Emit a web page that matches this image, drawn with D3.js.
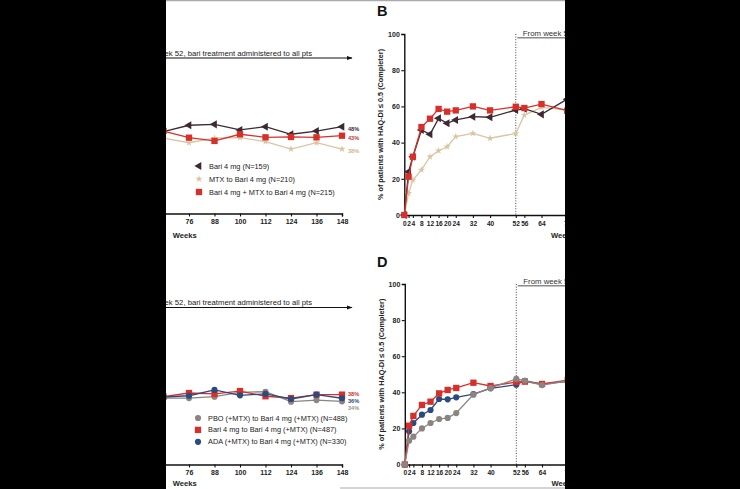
<!DOCTYPE html>
<html><head><meta charset="utf-8">
<script src="https://cdn.jsdelivr.net/npm/d3@7"></script>
<style>
body{margin:0;background:#fff}
svg{display:block}
text{font-family:"Liberation Sans",Arial,Helvetica,sans-serif}
</style>
</head><body>
<svg id="c" width="740" height="489"></svg>
<script>
// ---------------- DATA ----------------
const weeksEarly = [0,2,4,8,12,16,20,24,32,40,52,56,64,76];
const weeksLate  = [64,76,88,100,112,124,136,148];
const xTickWeeks = [0,2,4,8,12,16,20,24,32,40,52,56,64,76,88,100,112,124,136,148];
const yTickValues = [0,20,40,60,80,100];

// Panel A (visible part, weeks 64-148)
const aBari    = [45.8,49.3,49.8,46.7,48.5,44.3,46.1,48.5];
const aMtx     = [42.2,39.6,42.1,42.4,40.2,36.1,39.6,36.1];
const aBariMtx = [46.1,42.4,40.6,44.3,42.6,42.8,42.6,43.5];
const aEndLabels = ["48%","38%","43%"];   // Bari, MTX, Bari+MTX
const aLegend = ["Bari 4 mg (N=159)","MTX to Bari 4 mg (N=210)","Bari 4 mg + MTX to Bari 4 mg (N=215)"];

// Panel B (weeks 0-76)
const bBari    = [0,23.9,32.2,47.0,44.6,53.4,50.7,52.5,54.3,54.0,58.0,58.7,55.6,64.0];
const bMtx     = [0,12.0,19.3,24.9,32.2,35.5,37.7,43.3,45.1,42.4,45.1,55.2,59.5,58.0];
const bBariMtx = [0,21.2,32.2,48.6,53.2,58.6,57.1,57.8,60.0,57.8,59.8,59.1,61.3,57.6];

// Panel C (visible part, weeks 64-148)
const cPbo  = [36.8,36.8,37.6,40.0,40.3,34.8,35.7,35.0];
const cBari = [37.6,39.6,39.1,40.7,37.8,36.8,38.7,38.7];
const cAda  = [37.4,38.1,41.3,38.3,39.1,36.3,38.7,36.7];
const cEndLabels = ["34%","38%","36%"];   // PBO, Bari, ADA
const cLegend = ["PBO (+MTX) to Bari 4 mg (+MTX) (N=488)","Bari 4 mg to Bari 4 mg (+MTX) (N=487)","ADA (+MTX) to Bari 4 mg (+MTX) (N=330)"];

// Panel D (weeks 0-76)
const dPbo  = [0,13.2,15.4,20.0,23.0,25.2,25.8,28.5,38.7,42.4,47.4,46.4,44.0,46.4];
const dBari = [0,21.5,26.9,33.0,34.8,39.4,41.3,42.4,45.3,43.5,45.7,45.9,44.6,46.8];
const dAda  = [0,18.4,23.0,27.6,30.2,36.3,36.1,37.2,39.0,42.2,44.2,46.4,44.5,46.0];

const arrowText = "From week 52, bari treatment administered to all pts";
const yTitle = "% of patients with HAQ-DI \u2264 0.5 (Completer)";
const panelLetters = ["B","D"];
const visibleLateTicks = [76,88,100,112,124,136,148];

// ---------------- STYLE ----------------
const C = {
  dark:"#3d2a30", red:"#d7302a", beige:"#d9c5a2", blue:"#2b4b7e", gray:"#8b8480",
  redLbl:"#c8372d", beigeLbl:"#cdb892", blueLbl:"#2b4b7e", grayLbl:"#9a938e"
};
const svg = d3.select("#c");

const sym = {
  triL: {type:d3.symbolTriangle, size:28, rot:-90},
  square:{type:d3.symbolSquare, size:40, rot:0},
  star:{type:d3.symbolStar, size:16, rot:0},
  circle:{type:d3.symbolCircle, size:30, rot:0}
};
function drawMarker(g,x,y,m,color){
  g.append("path").attr("d",d3.symbol().type(sym[m].type).size(sym[m].size)())
   .attr("transform",`translate(${x},${y}) rotate(${sym[m].rot})`)
   .attr("fill",color);
}
function drawSeries(g,xs,ys,weeks,vals,color,m){
  const pts = weeks.map((w,i)=>[xs(w),ys(vals[i])]);
  g.append("path").attr("d",d3.line()(pts)).attr("fill","none")
   .attr("stroke",color).attr("stroke-width",1.3);
  pts.forEach(p=>drawMarker(g,p[0],p[1],m,color));
}

svg.append("defs").append("marker").attr("id","arr").attr("viewBox","0 0 10 10")
  .attr("refX",9).attr("refY",5).attr("markerWidth",6).attr("markerHeight",6)
  .attr("orient","auto").append("path").attr("d","M0,1.5L10,5L0,8.5Z").attr("fill","#111");

function styleAxis(g,fs){
  g.selectAll(".domain").attr("stroke","#111").attr("stroke-width",1.4);
  g.selectAll(".tick line").attr("stroke","#111").attr("stroke-width",1.1);
  g.selectAll("text").attr("font-size",fs).attr("font-weight","bold")
   .attr("font-family","'Liberation Sans',Arial,sans-serif").attr("fill","#222");
}

// ---------- Left panels (A, C) ----------
function leftPanel(cfg){
  const g = svg.append("g");
  const x = d3.scaleLinear().domain([0,148]).range([27.5,342]);
  const y = d3.scaleLinear().domain([0,100]).range([cfg.y0,cfg.y100]);
  g.append("line").attr("x1",x(52)).attr("x2",352).attr("y1",cfg.arrowY).attr("y2",cfg.arrowY)
   .attr("stroke","#111").attr("stroke-width",1).attr("marker-end","url(#arr)");
  g.append("text").attr("x",312).attr("y",cfg.arrowY-2.4).attr("text-anchor","end")
   .attr("font-size",7.7).attr("fill","#222").text(arrowText);
  const ax = g.append("g").attr("transform",`translate(0,${cfg.axisY})`)
    .call(d3.axisBottom(x).tickValues(visibleLateTicks).tickSize(3).tickPadding(3));
  styleAxis(ax,7);
  g.append("text").attr("x",(x.range()[0]+x.range()[1])/2).attr("y",cfg.axisY+cfg.weeksDy)
   .attr("text-anchor","middle").attr("font-size",7.6).attr("font-weight","bold").attr("fill","#222").text("Weeks");
  cfg.series.forEach(s=>drawSeries(g,x,y,weeksLate,s.vals,s.color,s.m));
  const ends = cfg.series.map((s,i)=>({y:y(s.vals[s.vals.length-1]),lbl:cfg.endLabels[i],c:s.lbl}))
     .sort((a,b)=>a.y-b.y);
  let prev=-1e9;
  ends.forEach(e=>{
    let yy=Math.max(e.y+cfg.lblOff,prev+7); prev=yy;
    g.append("text").attr("x",348).attr("y",yy).attr("dy","0.35em").attr("font-size",5.6)
     .attr("font-weight","bold").attr("fill",e.c).text(e.lbl);
  });
  cfg.legend.forEach((t,i)=>{
    const ly = cfg.legY + i*cfg.legStep;
    drawMarker(g,cfg.legX,ly,cfg.series[i].m,cfg.series[i].color);
    g.append("text").attr("x",cfg.legX+10).attr("y",ly).attr("dy","0.35em")
     .attr("font-size",7.35).attr("fill","#222").text(t);
  });
}

leftPanel({y0:214,y100:34,axisY:213.5,arrowY:58,legX:199,legY:166,legStep:13,weeksDy:24.5,lblOff:2.5,
  endLabels:aEndLabels,legend:aLegend,
  series:[{vals:aBari,color:C.dark,m:"triL",lbl:C.dark},
          {vals:aMtx,color:C.beige,m:"star",lbl:C.beigeLbl},
          {vals:aBariMtx,color:C.red,m:"square",lbl:C.redLbl}]});
leftPanel({y0:464.5,y100:284,axisY:464.5,arrowY:307.5,legX:198,legY:418,legStep:11.9,weeksDy:21.5,lblOff:-0.7,
  endLabels:cEndLabels,legend:cLegend,
  series:[{vals:cPbo,color:C.gray,m:"circle",lbl:C.grayLbl},
          {vals:cBari,color:C.red,m:"square",lbl:C.redLbl},
          {vals:cAda,color:C.blue,m:"circle",lbl:C.blueLbl}]});

// ---------- Right panels (B, D) ----------
function rightPanel(cfg){
  const g = svg.append("g");
  const x = d3.scaleLinear().domain([0,148]).range([cfg.x0,cfg.x0+148*2.144]);
  const y = d3.scaleLinear().domain([0,100]).range([cfg.y0,cfg.y100]);
  g.append("text").attr("x",377).attr("y",cfg.letterY).attr("font-size",14.5)
   .attr("font-weight","bold").attr("fill","#111").text(cfg.letter);
  g.append("line").attr("x1",x(52)).attr("x2",x(52)).attr("y1",y(100)).attr("y2",y(0))
   .attr("stroke","#444").attr("stroke-width",1).attr("stroke-dasharray","1,1.6");
  g.append("line").attr("x1",x(52)+1.5).attr("x2",760).attr("y1",cfg.ulY).attr("y2",cfg.ulY)
   .attr("stroke","#8a8a8a").attr("stroke-width",1.5);
  g.append("text").attr("x",x(52)+7).attr("y",cfg.ulY-2.2).attr("font-size",7.8)
   .attr("fill","#333").text(arrowText);
  const ax = g.append("g").attr("transform",`translate(0,${cfg.y0})`)
    .call(d3.axisBottom(x).tickValues(xTickWeeks).tickSize(3).tickPadding(3));
  styleAxis(ax,6.6);
  const ay = g.append("g").attr("transform",`translate(${cfg.x0},0)`)
    .call(d3.axisLeft(y).tickValues(yTickValues).tickSize(3).tickPadding(1.5));
  styleAxis(ay,7);
  g.append("text").attr("transform",`translate(${cfg.x0-21},${(cfg.y0+cfg.y100)/2}) rotate(-90)`)
   .attr("text-anchor","middle").attr("font-size",7.3).attr("font-weight","bold").attr("fill","#222").text(yTitle);
  g.append("text").attr("x",(x.range()[0]+x.range()[1])/2).attr("y",cfg.y0+cfg.weeksDy)
   .attr("text-anchor","middle").attr("font-size",7.6).attr("font-weight","bold").attr("fill","#222").text("Weeks");
  cfg.series.forEach(s=>drawSeries(g,x,y,weeksEarly,s.vals,s.color,s.m));
}
rightPanel({letter:panelLetters[0],letterY:16,x0:404.3,y0:215,y100:34,ulY:37.7,weeksDy:23,
  series:[{vals:bMtx,color:C.beige,m:"star"},
          {vals:bBari,color:C.dark,m:"triL"},
          {vals:bBariMtx,color:C.red,m:"square"}]});
rightPanel({letter:panelLetters[1],letterY:266.5,x0:404.8,y0:464.5,y100:284,ulY:285.7,weeksDy:21.5,
  series:[{vals:dAda,color:C.blue,m:"circle"},
          {vals:dBari,color:C.red,m:"square"},
          {vals:dPbo,color:C.gray,m:"circle"}]});

// ---------- frame & masks ----------
svg.append("line").attr("x1",0).attr("x2",740).attr("y1",0.5).attr("y2",0.5).attr("stroke","#aaa").attr("stroke-width",1.5);
svg.append("line").attr("x1",340).attr("x2",740).attr("y1",488).attr("y2",488).attr("stroke","#aaa").attr("stroke-width",1.2);
svg.append("rect").attr("x",0).attr("y",0).attr("width",166).attr("height",489).attr("fill","#000");
svg.append("rect").attr("x",565).attr("y",0).attr("width",175).attr("height",489).attr("fill","#000");
</script>
</body></html>
